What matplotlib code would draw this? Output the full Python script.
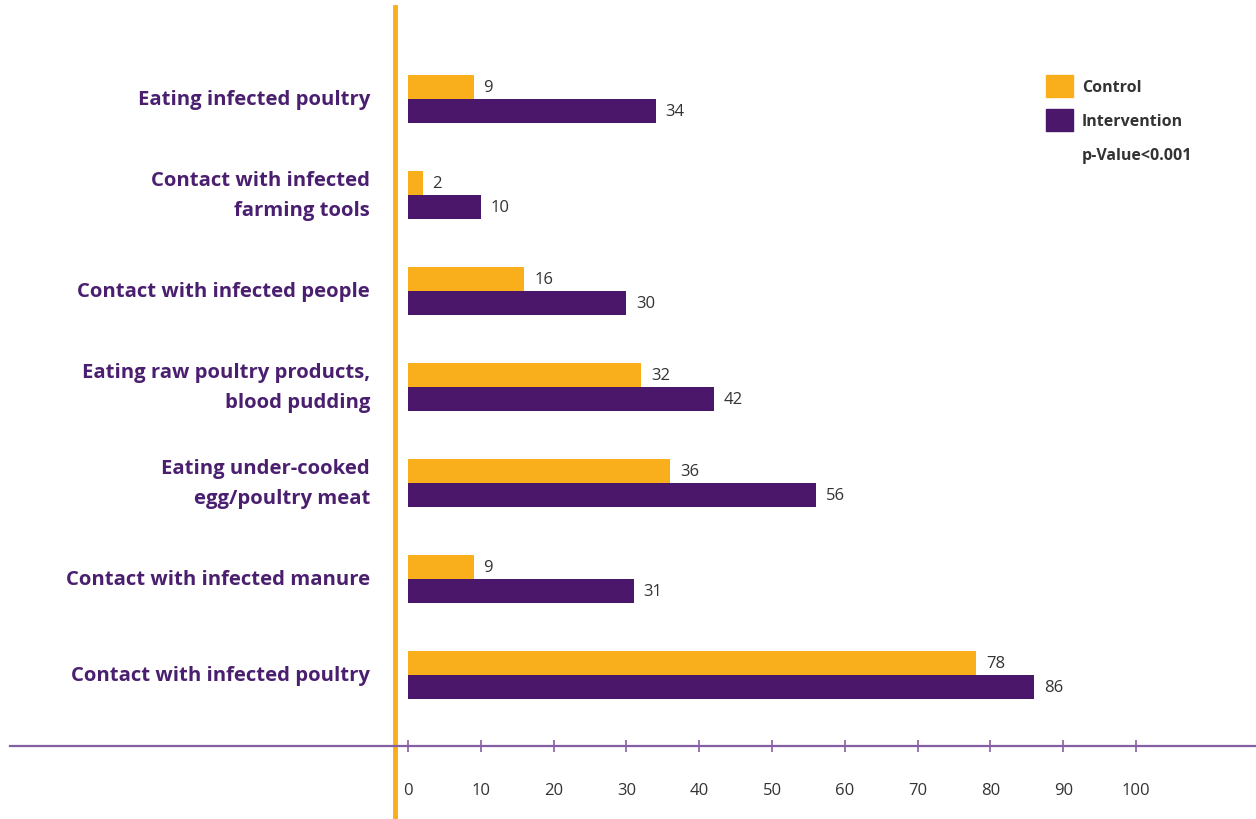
import matplotlib.pyplot as plt
from matplotlib.patches import Patch

# Data
categories = [
    "Eating infected poultry",
    "Contact with infected\nfarming tools",
    "Contact with infected people",
    "Eating raw poultry products,\nblood pudding",
    "Eating under-cooked\negg/poultry meat",
    "Contact with infected manure",
    "Contact with infected poultry",
]
control = [9, 2, 16, 32, 36, 9, 78]
intervention = [34, 10, 30, 42, 56, 31, 86]
x_ticks = [0, 10, 20, 30, 40, 50, 60, 70, 80, 90, 100]

orange = "#F9AE1B"
purple = "#4A176B"
label_purple = "#4B1F6F"
axis_purple = "#8460A2"
grey = "#333333"

W, H = 1256, 820
fig = plt.figure(figsize=(W / 100, H / 100), dpi=100)
ax = fig.add_axes([0, 0, 1, 1])

# pixel mapping: value 0 at x=408px, 7.28 px per unit; group i centred at y=100+96*i px
ppu = 7.28
x0 = 408
ax.set_xlim(-x0 / ppu, (W - x0) / ppu)
ax.set_ylim((H - 100) / 96, -100 / 96)
ax.axis("off")

pos = list(range(len(categories)))
bh = 0.25
ax.barh([p - bh / 2 for p in pos], control, height=bh, color=orange)
ax.barh([p + bh / 2 for p in pos], intervention, height=bh, color=purple)

for p, c, v in zip(pos, control, intervention):
    ax.text(c + 10 / ppu, p - bh / 2, str(c), va="center", ha="left",
            fontsize=12, color=grey, family="Open Sans")
    ax.text(v + 10 / ppu, p + bh / 2, str(v), va="center", ha="left",
            fontsize=12, color=grey, family="Open Sans")

# category labels
for p, cat in zip(pos, categories):
    ax.text((370 - x0) / ppu, p, cat, ha="right", va="center", fontsize=14.6,
            fontweight="bold", color=label_purple, family="Open Sans", linespacing=1.7)

# orange vertical divider
ax.axvline((395 - x0) / ppu, ymin=0, ymax=(H - 8) / H, color=orange, lw=3.5)

# bottom axis line with ticks
y_axis = (747 - 100) / 96
ax.axhline(y_axis, xmin=10 / W, xmax=1, color=axis_purple, lw=1.6)
ax.vlines(x_ticks, y_axis - 6 / 96, y_axis + 6 / 96, color=axis_purple, lw=1.2)
for t in x_ticks:
    ax.text(t, (791 - 100) / 96, str(t), ha="center", va="center",
            fontsize=12, color=grey, family="Open Sans")

# legend
handles = [Patch(color=orange, label="Control"),
           Patch(color=purple, label="Intervention"),
           Patch(color="none", label="p-Value<0.001")]
leg = ax.legend(handles=handles, loc="upper left",
                bbox_to_anchor=(1046 / W, 1 - 76 / H), bbox_transform=fig.transFigure,
                frameon=False, borderpad=0, borderaxespad=0,
                handlelength=1.7, handleheight=1.7, handletextpad=0.55,
                labelspacing=0.78, prop={"family": "Open Sans", "weight": "bold", "size": 11.5})
for txt in leg.get_texts():
    txt.set_color(grey)

fig.savefig("out.png", dpi=100)
